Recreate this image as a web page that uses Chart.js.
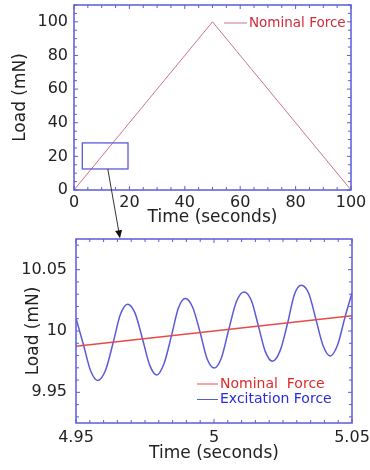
<!DOCTYPE html>
<html lang="en">
<head>
<meta charset="UTF-8">
<title>Nominal and Excitation Force</title>
<script src="https://cdn.jsdelivr.net/npm/chart.js"></script>
<style>
    * { margin: 0; padding: 0; box-sizing: border-box; }
    body { background: #fff; width: 370px; height: 470px; position: relative; overflow: hidden; }
    .box { position: absolute; left: 0; width: 370px; }
    #top { top: 0; height: 242px; z-index: 2; }
    #bottom { top: 230px; height: 240px; z-index: 1; }
</style>
</head>
<body>
<div class="box" id="top"><canvas id="rampChart"></canvas></div>
<div class="box" id="bottom"><canvas id="zoomChart"></canvas></div>

<script>
    // top panel: full load ramp
    const rampTime = [0, 50, 100];
    const rampLoad = [0, 100, 0];
    const rampXLabels = ['0', '20', '40', '60', '80', '100'];
    const rampYLabels = ['0', '20', '40', '60', '80', '100'];

    // zoom box on the top panel and arrow down to the lower panel (data units)
    const zoomBoxTime = [3, 19.5];
    const zoomBoxLoad = [12.5, 28];
    const arrowTime = [12.2, 16.6];
    const arrowLoad = [12.5, -28.7];

    // bottom panel: 4.95 s .. 5.05 s
    const nominalTime = [4.95, 5.05];
    const nominalLoad = [9.9875, 10.0125];
    const excitationTime = [
        4.9500, 4.9527, 4.9553, 4.9579, 4.9607, 4.9635, 4.9661, 4.9687, 4.9714, 4.9741,
        4.9766, 4.9792, 4.9819, 4.9846, 4.9871, 4.9896, 4.9923, 4.9950, 4.9975, 5.0001,
        5.0027, 5.0053, 5.0081, 5.0109, 5.0135, 5.0161, 5.0186, 5.0212, 5.0240, 5.0267,
        5.0291, 5.0316, 5.0343, 5.0370, 5.0395, 5.0421, 5.0448, 5.0475, 5.0500];
    const excitationLoad = [
        10.0103, 9.9888, 9.9676, 9.9597, 9.9680, 9.9908, 10.0136, 10.0219, 10.0146, 9.9935,
        9.9728, 9.9641, 9.9735, 9.9962, 10.0188, 10.0265, 10.0192, 9.9986, 9.9774, 9.9698,
        9.9782, 10.0008, 10.0238, 10.0318, 10.0250, 10.0040, 9.9832, 9.9754, 9.9842, 10.0067,
        10.0296, 10.0373, 10.0308, 10.0089, 9.9882, 9.9797, 9.9888, 10.0116, 10.0310];
    const zoomXLabels = ['4.95', '5', '5.05'];
    const zoomYLabels = ['9.95', '10', '10.05'];

    const AXIS_BLUE = '#5b5bdc';
    const TEXT = '#222';

    Chart.defaults.font.family = "'DejaVu Sans', sans-serif";
    Chart.defaults.animation = false;

    function pairs(xs, ys) {
        return xs.map((x, i) => ({ x: x, y: ys[i] }));
    }

    function labelFrom(list) {
        return v => {
            const hit = list.find(l => Math.abs(parseFloat(l) - v) < 1e-7);
            return hit === undefined ? '' : hit;
        };
    }

    // every minor tick between min and max (labels are picked by the callback)
    function minorTicks(step) {
        return s => {
            const out = [];
            for (let i = Math.ceil(s.min / step - 1e-6); i * step <= s.max + 1e-9; i++) {
                out.push({ value: +(i * step).toFixed(6) });
            }
            s.ticks = out;
        };
    }

    // box frame with small inward ticks on all four sides
    const framePlugin = {
        id: 'frame',
        afterDatasetsDraw(chart) {
            const { ctx, chartArea: a, scales: { x, y } } = chart;
            ctx.save();
            ctx.strokeStyle = AXIS_BLUE;
            ctx.lineWidth = 1;
            ctx.beginPath();
            x.ticks.forEach(t => {
                const px = x.getPixelForValue(t.value);
                const len = t.label ? 4 : 3;
                ctx.moveTo(px, a.bottom); ctx.lineTo(px, a.bottom - len);
                ctx.moveTo(px, a.top); ctx.lineTo(px, a.top + len);
            });
            y.ticks.forEach(t => {
                const py = y.getPixelForValue(t.value);
                const len = t.label ? 4 : 3;
                ctx.moveTo(a.left, py); ctx.lineTo(a.left + len, py);
                ctx.moveTo(a.right, py); ctx.lineTo(a.right - len, py);
            });
            ctx.stroke();
            ctx.lineWidth = 1.5;
            ctx.strokeRect(a.left, a.top, a.right - a.left, a.bottom - a.top);
            ctx.restore();
        }
    };

    // line + coloured text legend drawn inside the plot
    const lineLegend = {
        id: 'lineLegend',
        afterDraw(chart, args, opts) {
            const ctx = chart.ctx;
            ctx.save();
            ctx.font = opts.fontSize + "px 'DejaVu Sans', sans-serif";
            ctx.textBaseline = 'middle';
            chart.data.datasets.forEach((ds, i) => {
                const y = opts.y + i * opts.rowHeight;
                ctx.strokeStyle = ds.borderColor;
                ctx.lineWidth = 1;
                ctx.beginPath();
                ctx.moveTo(opts.x, y);
                ctx.lineTo(opts.x + opts.lineLength, y);
                ctx.stroke();
                ctx.fillStyle = opts.textColors[i];
                ctx.fillText(ds.label, opts.x + opts.lineLength + 2, y);
            });
            ctx.restore();
        }
    };

    // zoom rectangle and arrow on the top panel
    const zoomMarker = {
        id: 'zoomMarker',
        afterDraw(chart) {
            const { ctx, scales: { x, y } } = chart;
            ctx.save();
            const x0 = x.getPixelForValue(zoomBoxTime[0]);
            const x1 = x.getPixelForValue(zoomBoxTime[1]);
            const y0 = y.getPixelForValue(zoomBoxLoad[1]);
            const y1 = y.getPixelForValue(zoomBoxLoad[0]);
            ctx.strokeStyle = AXIS_BLUE;
            ctx.lineWidth = 1.3;
            ctx.strokeRect(x0, y0, x1 - x0, y1 - y0);

            const ax = x.getPixelForValue(arrowTime[0]);
            const ay = y.getPixelForValue(arrowLoad[0]);
            const bx = x.getPixelForValue(arrowTime[1]);
            const by = y.getPixelForValue(arrowLoad[1]);
            const ang = Math.atan2(by - ay, bx - ax);
            ctx.strokeStyle = '#333';
            ctx.fillStyle = '#111';
            ctx.lineWidth = 1;
            ctx.beginPath();
            ctx.moveTo(ax, ay);
            ctx.lineTo(bx - 6 * Math.cos(ang), by - 6 * Math.sin(ang));
            ctx.stroke();
            ctx.beginPath();
            ctx.moveTo(bx, by);
            ctx.lineTo(bx - 8 * Math.cos(ang) + 3.5 * Math.sin(ang), by - 8 * Math.sin(ang) - 3.5 * Math.cos(ang));
            ctx.lineTo(bx - 8 * Math.cos(ang) - 3.5 * Math.sin(ang), by - 8 * Math.sin(ang) + 3.5 * Math.cos(ang));
            ctx.closePath();
            ctx.fill();
            ctx.restore();
        }
    };

    function axis(min, max, step, labels, title, size, tickPad, titlePad) {
        return {
            type: 'linear',
            min: min,
            max: max,
            grid: { display: false, drawTicks: false },
            border: { display: false },
            ticks: {
                autoSkip: false,
                maxRotation: 0,
                padding: tickPad,
                color: TEXT,
                font: { size: 16 },
                callback: labelFrom(labels)
            },
            title: { display: true, text: title, color: TEXT, font: { size: 17 }, padding: titlePad },
            afterBuildTicks: minorTicks(step),
            afterFit: s => {
                if (s.isHorizontal()) s.height = size; else s.width = size;
                s.paddingTop = 0; s.paddingBottom = 0; s.paddingLeft = 0; s.paddingRight = 0;
            }
        };
    }

    new Chart(document.getElementById('rampChart'), {
        type: 'line',
        data: {
            datasets: [{
                label: 'Nominal Force',
                data: pairs(rampTime, rampLoad),
                borderColor: '#cc7486',
                borderWidth: 1,
                pointRadius: 0
            }]
        },
        options: {
            responsive: true,
            maintainAspectRatio: false,
            layout: { padding: { left: 0, top: 5, right: 19, bottom: 0 } },
            scales: {
                x: axis(0, 100, 5, rampXLabels, 'Time (seconds)', 52, 3, { top: 0, bottom: 14 }),
                y: axis(0, 110, 5, rampYLabels, 'Load (mN)', 74, 6, { top: 10, bottom: 0 })
            },
            plugins: {
                legend: { display: false },
                tooltip: { enabled: false },
                lineLegend: { x: 224, y: 23, lineLength: 23, rowHeight: 15, fontSize: 13.5, textColors: ['#d42a3a'] }
            }
        },
        plugins: [framePlugin, lineLegend, zoomMarker]
    });

    new Chart(document.getElementById('zoomChart'), {
        type: 'line',
        data: {
            datasets: [{
                label: 'Nominal  Force',
                data: pairs(nominalTime, nominalLoad),
                borderColor: '#e84a4a',
                borderWidth: 1.5,
                pointRadius: 0
            }, {
                label: 'Excitation Force',
                data: pairs(excitationTime, excitationLoad),
                borderColor: '#5a5ad8',
                borderWidth: 1.5,
                pointRadius: 0,
                cubicInterpolationMode: 'monotone'
            }]
        },
        options: {
            responsive: true,
            maintainAspectRatio: false,
            layout: { padding: { left: 0, top: 9, right: 18, bottom: 0 } },
            scales: {
                x: axis(4.95, 5.05, 0.005, zoomXLabels, 'Time (seconds)', 47, 5, { top: 0, bottom: 6 }),
                y: axis(9.925, 10.075, 0.01, zoomYLabels, 'Load (mN)', 76, 9, { top: 23, bottom: 0 })
            },
            plugins: {
                legend: { display: false },
                tooltip: { enabled: false },
                lineLegend: { x: 197, y: 154, lineLength: 21, rowHeight: 15.5, fontSize: 14, textColors: ['#e02a2a', '#2a2ae0'] }
            }
        },
        plugins: [framePlugin, lineLegend]
    });
</script>
</body>
</html>
